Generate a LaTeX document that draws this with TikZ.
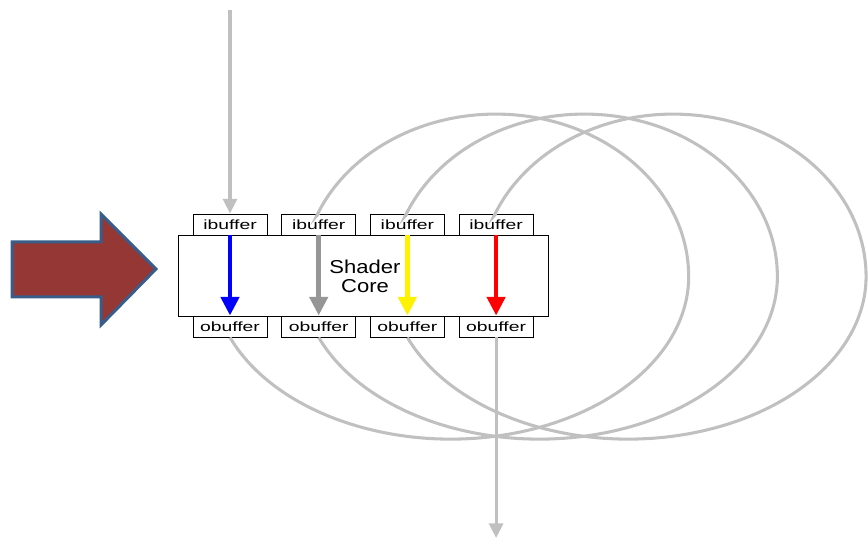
\documentclass[tikz,border=0pt]{standalone}
\usepackage{fontspec}
\setmainfont{Liberation Sans}
\newfontfamily\buflab[FakeStretch=1.45]{Liberation Sans}
\newfontfamily\corelab[FakeStretch=1.18]{Liberation Sans}
\usetikzlibrary{arrows.meta}
\definecolor{loopgray}{RGB}{192,192,192}
\definecolor{bigfill}{RGB}{149,55,53}
\definecolor{bigedge}{RGB}{56,93,138}
\definecolor{midgray}{RGB}{150,150,150}
\tikzset{
  buf/.style={draw=black, line width=0.7pt, fill=white, inner sep=0pt,
    minimum width=74*0.75pt, minimum height=21*0.75pt,
    font=\buflab\fontsize{10pt}{12pt}\selectfont},
  core/.style={draw=black, line width=0.7pt, fill=white, inner sep=0pt,
    minimum width=370*0.75pt, minimum height=81*0.75pt},
  loopline/.style={draw=loopgray, line width=2.3pt},
  garrow/.style={draw=loopgray, line width=2.3pt, -{Triangle[width=10.5pt,length=11pt]}},
  carrow/.style={line width=3.4pt, -{Triangle[width=13.5pt,length=14pt]}},
}
\begin{document}
\begin{tikzpicture}[x=0.75pt,y=0.75pt]
\useasboundingbox (0,0) rectangle (868,539);
% big arrow
\draw[fill=bigfill, draw=bigedge, line width=2.25pt, line join=miter]
  (12,297) -- (101,297) -- (101,325) -- (156,270) -- (101,214) -- (101,242) -- (12,242) -- cycle;
% core and buffers
\node[core] (core) at (363,263.5) {};
\node[align=center, font=\corelab\fontsize{14pt}{14.5pt}\selectfont] (lbl) at (365,263) {Shader\\Core};
\foreach \k/\c in {1/230,2/318.7,3/407.4,4/496.1}{
  \node[buf] (ib\k) at (\c,314.5) {ibuffer};
  \node[buf] (ob\k) at (\c,212.5) {obuffer};
}
% loops
\foreach \a/\b in {1/2,2/3,3/4}{
  \draw[loopline] (ob\a.south)
    arc[start angle=202, end angle=360, x radius=238*0.75pt, y radius=162.5*0.75pt]
    arc[start angle=0, end angle=158, x radius=193*0.75pt, y radius=162.5*0.75pt]
    -- (ib\b.north);
}
% input and output
\coordinate (in) at (230,529);
\coordinate (out) at (496.1,1);
\draw[garrow] (in) -- (ib1.north);
\draw[garrow] (ob4.south) -- (out);
% coloured arrows
\draw[carrow, blue] (ib1.south) -- (ob1.north);
\draw[carrow, midgray] (ib2.south) -- (ob2.north);
\draw[carrow, yellow] (ib3.south) -- (ob3.north);
\draw[carrow, red] (ib4.south) -- (ob4.north);
\end{tikzpicture}
\end{document}
